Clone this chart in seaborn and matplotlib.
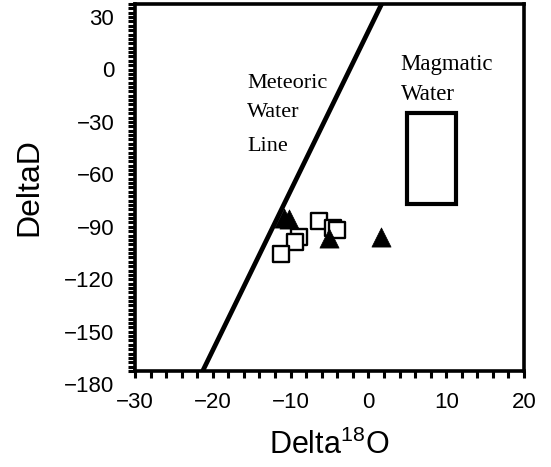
import numpy as np
import pandas as pd
import matplotlib
matplotlib.use("Agg")
import matplotlib.pyplot as plt
import matplotlib.transforms as mtransforms
from matplotlib.patches import Rectangle
from matplotlib.ticker import MultipleLocator, FixedLocator
import seaborn as sns

# ---- data ----
tri_x = [-10.9, -10.2, -5.1, 1.6]
tri_y = [-92.4, -93.0, -103.9, -103.3]
sq_x = [-6.4, -4.6, -4.0, -8.9, -9.4, -11.2]
sq_y = [-94.1, -98.1, -99.3, -103.3, -106.2, -113.0]
mwl_x = [-21.3, 1.7]
mwl_y = [-180, 30]
magma_x = [5.0, 11.2]
magma_y = [-84.5, -32.5]
xticks = [-30, -20, -10, 0, 10, 20]
yticks = [30, 0, -30, -60, -90, -120, -150, -180]

sns.set_theme(style="ticks")
plt.rcParams['font.family'] = ['Liberation Sans', 'DejaVu Sans']
plt.rcParams['mathtext.fontset'] = 'custom'
plt.rcParams['mathtext.rm'] = 'Liberation Sans'
plt.rcParams['mathtext.it'] = 'Liberation Sans'

fig = plt.figure(figsize=(5.51, 4.67), dpi=100)
ax = fig.add_axes([135/551, 1 - 371/467, (524-135)/551, (371-4)/467])

sq_df = pd.DataFrame({"x": sq_x, "y": sq_y})
tri_df = pd.DataFrame({"x": tri_x, "y": tri_y})

ax.plot(mwl_x, mwl_y, color="black", lw=3.4, solid_capstyle="butt", zorder=2)
ax.add_patch(Rectangle((magma_x[0], magma_y[0]), magma_x[1]-magma_x[0], magma_y[1]-magma_y[0],
                       fill=False, edgecolor="black", lw=3, zorder=2))

sns.scatterplot(data=sq_df, x="x", y="y", marker="s", s=130, facecolor="white",
                edgecolor="black", linewidth=1.7, ax=ax, zorder=3)
sns.scatterplot(data=tri_df, x="x", y="y", marker="^", s=190, color="black",
                edgecolor="black", linewidth=0.5, ax=ax, zorder=4)

ax.set_xlim(-30, 20)
ax.set_ylim(-180, 30)
ax.xaxis.set_major_locator(FixedLocator(xticks))
ax.yaxis.set_major_locator(FixedLocator(yticks))
ax.xaxis.set_minor_locator(MultipleLocator(2))
ax.yaxis.set_minor_locator(MultipleLocator(2.5))
ax.tick_params(which="both", direction="out", length=5, width=2.2, color="black")
ax.tick_params(which="major", labelsize=16, pad=10, labelcolor="black")
ax.set_xticklabels([str(t).replace('-', '\u2212') for t in xticks])
ax.set_yticklabels([str(t).replace('-', '\u2212') for t in yticks])

for sp in ax.spines.values():
    sp.set_linewidth(2.6)
    sp.set_color("black")

ax.set_xlabel("Delta$^{18}$O", fontsize=22, labelpad=12, color="black")
ax.set_ylabel("DeltaD", fontsize=23, labelpad=14, color="black")

serif = ['Liberation Serif', 'DejaVu Serif']
for txt, yy in zip(["Meteoric", "Water", "Line"], [-18.0, -34.6, -54.1]):
    ax.text(-15.6, yy, txt, fontsize=16, family=serif, va="baseline", ha="left", color="black")
for txt, yy in zip(["Magmatic", "Water"], [-7.8, -24.9]):
    ax.text(4.15, yy, txt, fontsize=16.5, family=serif, va="baseline", ha="left", color="black")

# y tick labels appear shifted downward in the reference
offset = mtransforms.ScaledTranslation(0, -13/100, fig.dpi_scale_trans)
for lab in ax.get_yticklabels():
    lab.set_transform(lab.get_transform() + offset)

fig.savefig("out.png", dpi=100, facecolor="white")
